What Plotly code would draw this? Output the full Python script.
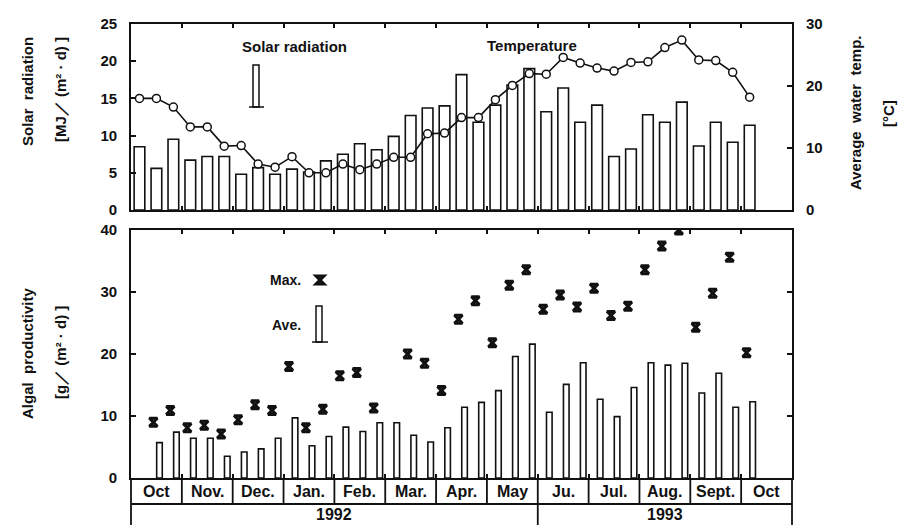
import numpy as np
import plotly.graph_objects as go

# ---------------- data (10-day periods, 3 per month) ----------------
months = ["Oct", "Nov.", "Dec.", "Jan.", "Feb.", "Mar.", "Apr.", "May",
          "Ju.", "Jul.", "Aug.", "Sept.", "Oct"]
years = ["1992", "1993"]
months_per_year = [8, 5]

# solar radiation [MJ/(m2 d)], periods 0..36
solar = [8.5, 5.6, 9.5, 6.7, 7.2, 7.2, 4.8, 5.7, 4.8, 5.5,
         5.1, 6.6, 7.5, 8.9, 8.1, 9.9, 12.7, 13.7, 14.0, 18.2,
         11.8, 14.1, 16.8, 19.0, 13.2, 16.4, 11.8, 14.1, 7.2, 8.2,
         12.8, 11.8, 14.5, 8.6, 11.8, 9.1, 11.4]
# average water temperature [deg C], periods 0..36
temp = [18.0, 18.0, 16.6, 13.4, 13.4, 10.3, 10.4, 7.4, 6.9, 8.6,
        6.0, 6.0, 7.4, 6.5, 7.4, 8.5, 8.5, 12.3, 12.4, 14.9,
        14.9, 17.8, 20.1, 22.0, 21.9, 24.6, 23.7, 22.9, 22.4, 23.8,
        23.9, 26.2, 27.4, 24.2, 24.1, 22.2, 18.2]
# algal productivity [g/(m2 d)], periods 1..36
algae_max = [9.0, 10.9, 8.1, 8.5, 7.1, 9.4, 11.8, 10.9, 18.0, 8.1,
             11.1, 16.5, 17.0, 11.3, None, 20.0, 18.5, 14.1, 25.6, 28.6,
             21.8, 31.1, 33.6, 27.2, 29.5, 27.6, 30.6, 26.2, 27.7, 33.6,
             37.4, 40.0, 24.3, 29.8, 35.6, 20.2]
algae_ave = [5.7, 7.4, 6.4, 6.4, 3.5, 4.2, 4.7, 6.4, 9.7, 5.2,
             6.7, 8.2, 7.5, 8.9, 8.9, 6.9, 5.8, 8.1, 11.4, 12.2,
             14.1, 19.6, 21.6, 10.6, 15.1, 18.6, 12.7, 9.9, 14.6, 18.6,
             18.2, 18.5, 13.7, 16.9, 11.4, 12.3]

# ---------------- geometry ----------------
W, H = 900, 525
L, R, T, B = 131, 108, 24, 47
PW, PH = W - L - R, H - T - B
NSLOT = 3 * len(months)

def px(x):
    return (x - L) / PW

def py(y):
    return (H - B - y) / PH

FONT = "Liberation Sans, Arial, Helvetica, sans-serif"
BLACK = "#111111"
LW = 1.8

x_top = np.arange(len(solar)) + 0.5
x_bot = np.arange(1, len(algae_ave) + 1) + 0.5

fig = go.Figure()
fig.add_trace(go.Bar(x=x_top, y=solar, width=0.63, xaxis="x", yaxis="y",
                     marker=dict(color="white", line=dict(color=BLACK, width=1.6)),
                     showlegend=False))
fig.add_trace(go.Scatter(x=x_top, y=temp, xaxis="x", yaxis="y3", mode="lines+markers",
                         line=dict(color=BLACK, width=1.6),
                         marker=dict(symbol="circle", size=8, color="white",
                                     line=dict(color=BLACK, width=1.5)),
                         showlegend=False))
fig.add_trace(go.Bar(x=x_bot + 0.18, y=algae_ave, width=0.33, xaxis="x2", yaxis="y2",
                     marker=dict(color="white", line=dict(color=BLACK, width=1.6)),
                     showlegend=False))
fig.add_trace(go.Scatter(x=x_bot - 0.18, y=algae_max, xaxis="x2", yaxis="y2", mode="markers",
                         marker=dict(symbol="hourglass-open", size=8, color=BLACK,
                                     line=dict(color=BLACK, width=3)),
                         showlegend=False))

top_dom = [py(210), 1.0]
bot_dom = [0.0, py(230)]
month_edges = list(range(3, NSLOT, 3))
tickfont = dict(family=FONT, size=15, color=BLACK, weight="bold")

common_x = dict(range=[0, NSLOT], tickvals=month_edges, ticks="inside", ticklen=4,
                tickcolor=BLACK, tickwidth=1.5, showticklabels=False, showline=True,
                linecolor=BLACK, linewidth=LW, mirror="ticks", showgrid=False, zeroline=False)
fig.update_layout(
    width=W, height=H, margin=dict(l=L, r=R, t=T, b=B),
    paper_bgcolor="white", plot_bgcolor="white", barmode="overlay",
    xaxis=dict(domain=[0, 1], anchor="y", **common_x),
    xaxis2=dict(domain=[0, 1], anchor="y2", **common_x),
    yaxis=dict(domain=top_dom, anchor="x", range=[0, 25], tickvals=[0, 5, 10, 15, 20, 25],
               ticks="inside", ticklen=5, tickcolor=BLACK, tickwidth=1.5,
               showline=True, linecolor=BLACK, linewidth=LW, showgrid=False,
               zeroline=False, tickfont=tickfont, ticklabelstandoff=9),
    yaxis3=dict(overlaying="y", side="right", anchor="x", range=[0, 30],
                tickvals=[0, 10, 20, 30], ticks="inside", ticklen=5, tickcolor=BLACK,
                tickwidth=1.5, showline=True, linecolor=BLACK, linewidth=LW,
                showgrid=False, zeroline=False, tickfont=tickfont, ticklabelstandoff=9),
    yaxis2=dict(domain=bot_dom, anchor="x2", range=[0, 40], tickvals=[0, 10, 20, 30, 40],
                ticks="inside", ticklen=5, tickcolor=BLACK, tickwidth=1.5,
                showline=True, linecolor=BLACK, linewidth=LW, mirror="ticks",
                showgrid=False, zeroline=False, tickfont=tickfont, ticklabelstandoff=9),
)

shapes = []
line = dict(color=BLACK, width=LW)
# month/year table under the lower panel
x_left, x_right = px(131), px(131 + PW)
shapes.append(dict(type="line", xref="paper", yref="paper", x0=x_left, x1=x_right,
                   y0=py(504), y1=py(504), line=line))
for e in month_edges:
    shapes.append(dict(type="line", xref="paper", yref="paper", x0=e / NSLOT, x1=e / NSLOT,
                       y0=py(478), y1=py(504), line=line))
for xe in (0.0, 1.0):
    shapes.append(dict(type="line", xref="paper", yref="paper", x0=xe, x1=xe,
                       y0=py(478), y1=py(H + 2), line=line))
year_edge = 3 * months_per_year[0] / NSLOT
shapes.append(dict(type="line", xref="paper", yref="paper", x0=year_edge, x1=year_edge,
                   y0=py(504), y1=py(H + 2), line=line))

# legend samples
shapes.append(dict(type="rect", xref="paper", yref="paper", x0=px(253), x1=px(259),
                   y0=py(107), y1=py(65), line=dict(color=BLACK, width=1.5), fillcolor="white"))
shapes.append(dict(type="line", xref="paper", yref="paper", x0=px(249), x1=px(264),
                   y0=py(107), y1=py(107), line=dict(color=BLACK, width=1.5)))
shapes.append(dict(type="rect", xref="paper", yref="paper", x0=px(316), x1=px(322),
                   y0=py(342), y1=py(306), line=dict(color=BLACK, width=1.5), fillcolor="white"))
shapes.append(dict(type="line", xref="paper", yref="paper", x0=px(312), x1=px(328),
                   y0=py(342), y1=py(342), line=dict(color=BLACK, width=1.5)))
cx, cy, r = 320, 280, 4
path = "M {a},{b} L {c},{b} L {a},{d} L {c},{d} Z".format(
    a=px(cx - r), c=px(cx + r), b=py(cy - r), d=py(cy + r))
shapes.append(dict(type="path", xref="paper", yref="paper", path=path,
                   line=dict(color=BLACK, width=3)))
fig.update_layout(shapes=shapes)

ann = []
def text(x, y, s, size=15, angle=0, xanchor="center"):
    ann.append(dict(xref="paper", yref="paper", x=px(x), y=py(y), text=s, showarrow=False,
                    textangle=angle, xanchor=xanchor, yanchor="middle",
                    font=dict(family=FONT, size=size, color=BLACK, weight="bold")))

for i, m in enumerate(months):
    text(131 + (3 * i + 1.5) * PW / NSLOT, 491, m, size=16)
start = 0
for y_lab, n in zip(years, months_per_year):
    c = 131 + (start + n / 2) * 3 * PW / NSLOT
    text(c, 514, y_lab, size=16)
    start += n

text(294, 47, "Solar radiation", size=15)
text(532, 45, "Temperature", size=15)
text(303, 280, "Max.", size=14, xanchor="right")
text(303, 325, "Ave.", size=14, xanchor="right")

text(27, 92, "Solar  radiation", size=15, angle=-90)
text(60, 90, "[MJ／ (m² · d) ]", size=15, angle=-90)
text(27, 353, "Algal  productivity", size=15, angle=-90)
text(60, 353, "[g／ (m² · d) ]", size=15, angle=-90)
text(856, 113, "Average  water  temp.", size=15, angle=-90)
text(888, 114, "[°C]", size=15, angle=-90)
fig.update_layout(annotations=ann)

fig.write_html("out.html")
